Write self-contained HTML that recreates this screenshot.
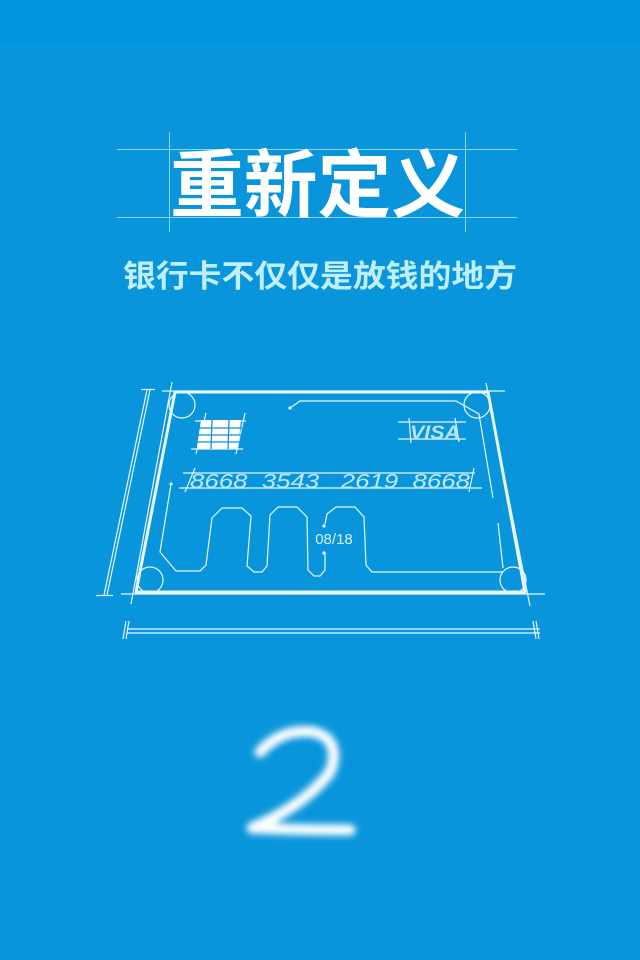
<!DOCTYPE html>
<html><head><meta charset="utf-8"><style>
html,body{margin:0;padding:0;width:640px;height:960px;overflow:hidden;background:#0995db}
svg{display:block}
</style></head><body>
<svg width="640" height="960" viewBox="0 0 640 960">
<defs><filter id="blur" x="-30%" y="-30%" width="160%" height="160%"><feGaussianBlur stdDeviation="3.5"/></filter></defs>
<rect x="0" y="0" width="640" height="960" fill="#0995db"/>
<rect x="0" y="0" width="640" height="45" fill="#0096dd"/>
<g stroke="#8fd3f5" stroke-width="1">
<line x1="117" y1="149.5" x2="517" y2="149.5"/><line x1="117" y1="217.5" x2="517" y2="217.5"/>
<line x1="169.5" y1="132" x2="169.5" y2="232"/><line x1="465.5" y1="132" x2="465.5" y2="232"/>
</g>
<text x="170" y="211" textLength="295" lengthAdjust="spacingAndGlyphs" font-family="'Liberation Sans','Noto Sans CJK SC',sans-serif" font-weight="bold" font-size="74" fill="#fff">重新定义</text>
<text x="123" y="287" textLength="394" lengthAdjust="spacingAndGlyphs" font-family="'Liberation Sans','Noto Sans CJK SC',sans-serif" font-weight="bold" font-size="31" fill="#bfeefc">银行卡不仅仅是放钱的地方</text>
<g fill="none" stroke="#e8f6fd">
<path d="M175,392 L488,392 L525,592 L136,592 Z" stroke-width="3" stroke-linejoin="round"/>
<g stroke-width="1.2">
<circle cx="182" cy="405" r="13"/><circle cx="477" cy="405" r="13"/><circle cx="150" cy="580" r="13"/><circle cx="513" cy="580" r="13"/>
<line x1="162" y1="391" x2="505" y2="391"/><line x1="121" y1="594" x2="545" y2="594"/>
<line x1="172" y1="382" x2="131" y2="604"/><line x1="486" y1="383" x2="530" y2="606"/>
<line x1="147" y1="390" x2="104" y2="595"/><line x1="150" y1="390" x2="107" y2="595"/>
<line x1="141" y1="389.5" x2="155" y2="389.5"/><line x1="96" y1="595.5" x2="113" y2="595.5"/>
<line x1="127" y1="629" x2="540" y2="629"/><line x1="127" y1="633" x2="540" y2="633"/>
<path d="M126,621 L123,639 M129,621 L126,639 M536,621 L539,639 M533,621 L536,639"/>
<path d="M290,408 L300,401 L456,401 L479,414 L493,498"/>
<line x1="498" y1="523" x2="503" y2="568"/>
<path d="M171,484 L160,552 L176,571 L200,571 L206,565 L212,518 L222,508 L242,508 L251,516 L247,566 L254,572 L262,572 L267,566 L270,515 L278,507 L297,507 L307,517 L308,570 L314,576 L320,576 L325,570 L325,553"/>
<path d="M325,524 L327,514 L336,507 L355,507 L364,517 L366,565 L372,572 L503,572"/>
<line x1="183" y1="473" x2="475" y2="473"/><line x1="179" y1="488" x2="482" y2="488"/>
<line x1="195" y1="468" x2="185" y2="492"/><line x1="474" y1="468" x2="469" y2="492"/>
<line x1="195" y1="421" x2="246" y2="421"/><line x1="191" y1="449" x2="243" y2="449"/>
<line x1="206" y1="413" x2="196" y2="454"/><line x1="245" y1="413" x2="236" y2="454"/>
<line x1="398" y1="422" x2="466" y2="422"/><line x1="398" y1="439" x2="466" y2="439"/>
<line x1="409" y1="418" x2="411" y2="443"/><line x1="455" y1="418" x2="459" y2="442"/>
</g>
</g>
<g fill="#e8f6fd" stroke="none"><circle cx="290" cy="408" r="1.6"/><circle cx="171" cy="484" r="1.6"/><circle cx="324" cy="526" r="1.6"/><circle cx="324" cy="553" r="1.6"/></g>
<g>
<path d="M201,420 L241,420 L238,449 L199,449 Q197,449 197,446 Z" fill="#fff"/>
<g stroke="#0995db" stroke-width="1.3"><line x1="197" y1="428" x2="242" y2="428"/><line x1="197" y1="435" x2="241" y2="435"/><line x1="197" y1="442" x2="240" y2="442"/><line x1="212" y1="420" x2="211" y2="449"/><line x1="229" y1="420" x2="228" y2="449"/></g>
</g>
<text x="410" y="439" textLength="50" lengthAdjust="spacingAndGlyphs" font-family="'Liberation Sans',sans-serif" font-weight="bold" font-style="italic" font-size="19" fill="#b5e4f9">VISA</text>
<text x="190" y="488" textLength="280" lengthAdjust="spacingAndGlyphs" font-family="'Liberation Sans',sans-serif" font-style="italic" font-size="20" fill="#bfe8fa" xml:space="preserve">8668  3543   2619  8668</text>
<text x="334" y="544" text-anchor="middle" font-family="'Liberation Sans',sans-serif" font-size="15" fill="#d5f0fc">08/18</text>
<path d="M260,752 Q282,728 314,732 Q342,740 330,772 Q305,805 252,828 Q300,830 350,830" fill="none" stroke="#fff" stroke-width="11" stroke-linecap="round" stroke-linejoin="round" filter="url(#blur)"/>
<text x="300" y="836" text-anchor="middle" font-family="'Liberation Sans',sans-serif" font-size="10" fill="none">2</text>
</svg>
</body></html>
